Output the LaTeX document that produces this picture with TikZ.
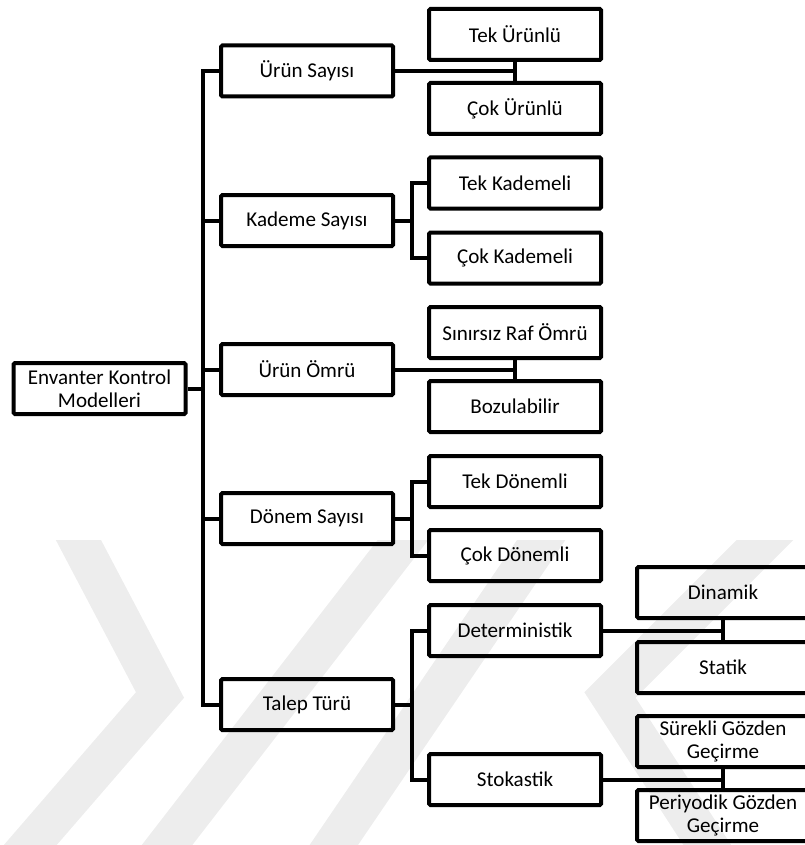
\documentclass[tikz,border=0pt]{standalone}
\usepackage{fontspec}
\setmainfont{Carlito}
\tikzset{
  kutu/.style={draw, line width=3pt, rounded corners=1pt, minimum width=129pt,
    minimum height=38.25pt, inner sep=0pt, align=center,
    font=\fontsize{15.8}{17.5}\selectfont},
  bag/.style={line width=3pt},
  iz/.style={line width=30pt, color=black!7},
}
\begin{document}
\begin{tikzpicture}[x=0.75pt, y=-0.75pt]
  \useasboundingbox (0,0) rectangle (804,845);
  % filigran
  \begin{scope}
    \clip (0,540) rectangle (804,845);
    \draw[iz] (60,505) -- (160,695) -- (0,880);
    \draw[iz] (140,880) -- (430,505);
    \draw[iz] (310,880) -- (565,505);
    \draw[iz] (800,505) -- (610,695) -- (730,880);
  \end{scope}
  % kutular
  \node[kutu] (ekm) at (99.5,388.5) {Envanter Kontrol\\Modelleri};
  \node[kutu] (us) at (307,71) {Ürün Sayısı};
  \node[kutu] (ks) at (307,220.5) {Kademe Sayısı};
  \node[kutu] (uo) at (307,369.5) {Ürün Ömrü};
  \node[kutu] (ds) at (307,518.5) {Dönem Sayısı};
  \node[kutu] (tt) at (307,704.5) {Talep Türü};
  \node[kutu] (teku) at (515,34.5) {Tek Ürünlü};
  \node[kutu] (coku) at (515,108.5) {Çok Ürünlü};
  \node[kutu] (tekk) at (515,183) {Tek Kademeli};
  \node[kutu] (cokk) at (515,258) {Çok Kademeli};
  \node[kutu] (srf) at (515,332.5) {Sınırsız Raf Ömrü};
  \node[kutu] (boz) at (515,406.5) {Bozulabilir};
  \node[kutu] (tekd) at (515,481.5) {Tek Dönemli};
  \node[kutu] (cokd) at (515,555.5) {Çok Dönemli};
  \node[kutu] (det) at (515,630.5) {Deterministik};
  \node[kutu] (sto) at (515,779.5) {Stokastik};
  \node[kutu] (din) at (723,592.5) {Dinamik};
  \node[kutu] (sta) at (723,667.5) {Statik};
  \node[kutu] (sgg) at (723,741.5) {Sürekli Gözden\\Geçirme};
  \node[kutu] (pgg) at (723,815.5) {Periyodik Gözden\\Geçirme};
  % ana gövde
  \coordinate (gov) at (203,0);
  \coordinate (kol) at (412,0);
  \draw[bag] (ekm.east) -- (ekm.east -| gov);
  \draw[bag] (us.west) -- (us.west -| gov) |- (tt.west);
  \foreach \n in {ks,uo,ds}
    \draw[bag] (\n.west) -- (\n.west -| gov);
  % araya giren baglar
  \foreach \a/\b/\c in {us/teku/coku, uo/srf/boz, det/din/sta, sto/sgg/pgg}{
    \draw[bag] (\a.east) -- (\a.east -| \b.south);
    \draw[bag] (\b.south) -- (\c.north);
  }
  % kollu baglar
  \foreach \a/\b/\c in {ks/tekk/cokk, ds/tekd/cokd, tt/det/sto}{
    \draw[bag] (\a.east) -- (\a.east -| kol);
    \draw[bag] (\b.west) -- (\b.west -| kol) |- (\c.west);
  }
\end{tikzpicture}
\end{document}
